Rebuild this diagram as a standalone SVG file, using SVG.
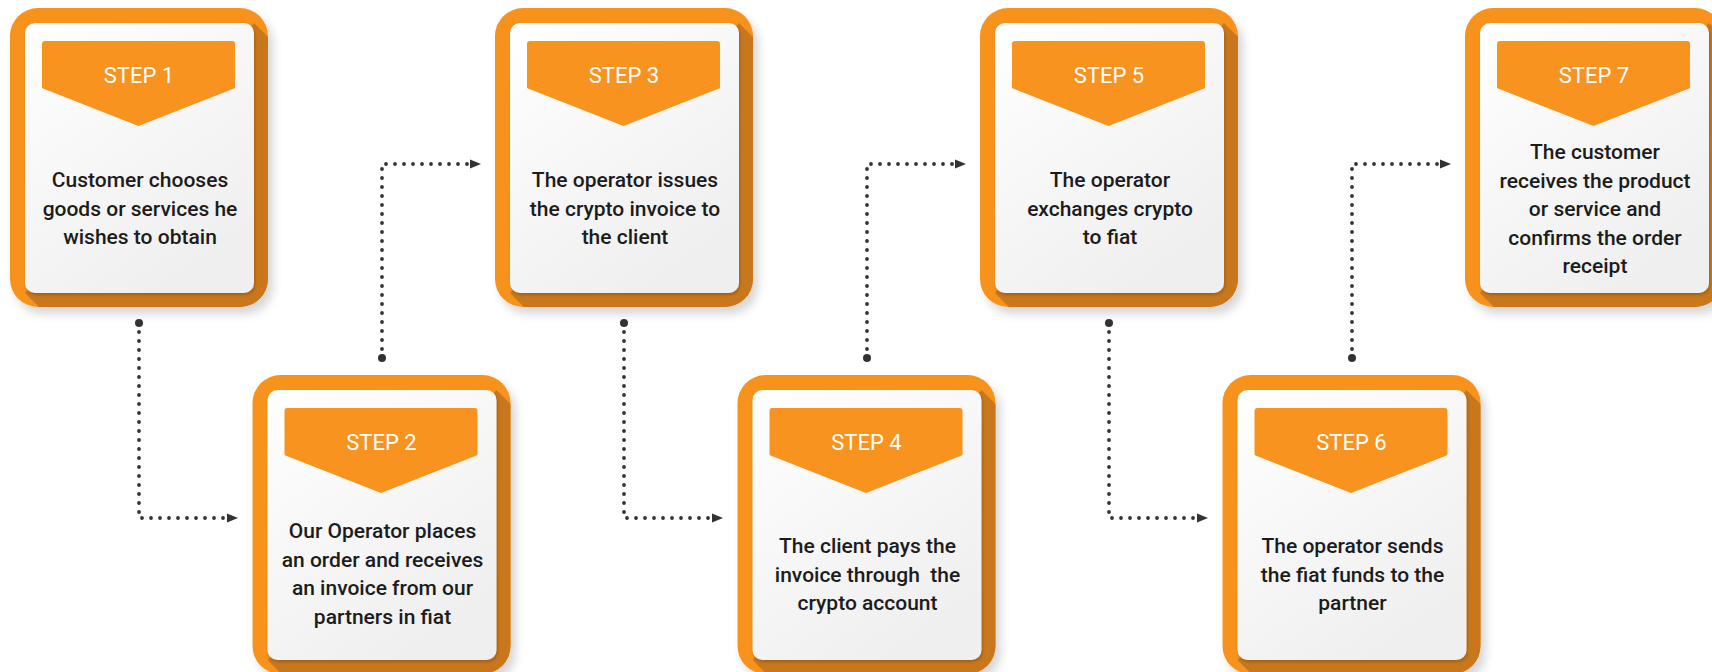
<svg xmlns="http://www.w3.org/2000/svg" xmlns:xlink="http://www.w3.org/1999/xlink" width="1712" height="672" viewBox="0 0 1712 672">
<style>
.outer{fill:#F7931E}
.banner{fill:#F7931E}
.lbl{font-family:Roboto,"Liberation Sans",sans-serif;font-size:22px;font-weight:400;fill:#ffffff;text-anchor:middle}
.txt{font-family:Roboto,"Liberation Sans",sans-serif;font-size:21px;font-weight:500;fill:#1c1c1c;text-anchor:middle}
.conn{fill:none;stroke:#333333;stroke-width:3.8;stroke-linecap:round;stroke-dasharray:0 9}
.dot{fill:#333333}
</style>
<defs>
  <linearGradient id="cardGrad" x1="0" y1="0" x2="0.6" y2="1">
    <stop offset="0" stop-color="#ffffff"/>
    <stop offset="1" stop-color="#efefef"/>
  </linearGradient>
  <clipPath id="outerClip"><rect x="0" y="0" width="258" height="299" rx="28"/></clipPath>
  <filter id="drop" x="-10%" y="-10%" width="130%" height="130%">
    <feDropShadow dx="5" dy="7" stdDeviation="5" flood-color="#000000" flood-opacity="0.16"/>
  </filter>
  <filter id="cardShadow" x="-10%" y="-10%" width="130%" height="130%">
    <feDropShadow dx="1" dy="2" stdDeviation="1.5" flood-color="#000000" flood-opacity="0.2"/>
  </filter>
  <g id="box">
    <rect class="outer" width="258" height="299" rx="28" filter="url(#drop)"/>
    <path clip-path="url(#outerClip)" d="M244 15 L354 125 L354 395 L125 395 L15 285 Z" fill="#C8771C"/>
    <rect x="15" y="15" width="229" height="270" rx="10" fill="url(#cardGrad)" filter="url(#cardShadow)"/>
    <path class="banner" d="M35 33 H222 Q225 33 225 36 V79 Q225 80 224 80.5 L128.5 118 L33 80.5 Q32 80 32 79 V36 Q32 33 35 33 Z"/>
  </g>
  <marker id="arrow" markerUnits="userSpaceOnUse" viewBox="0 0 11 10" markerWidth="11" markerHeight="10" refX="0" refY="5" orient="auto">
    <path d="M0 0.5 L11 5 L0 9.5 Z" fill="#333333"/>
  </marker>
</defs>

<g id="connectors">
  <g id="c1-2"><circle class="dot" cx="139" cy="323" r="4"/><path class="conn" d="M139 323 V518 H227" marker-end="url(#arrow)"/></g>
  <g id="c2-3"><circle class="dot" cx="382" cy="358" r="4"/><path class="conn" d="M382 358 V164 H470" marker-end="url(#arrow)"/></g>
  <g id="c3-4"><circle class="dot" cx="624" cy="323" r="4"/><path class="conn" d="M624 323 V518 H712" marker-end="url(#arrow)"/></g>
  <g id="c4-5"><circle class="dot" cx="867" cy="358" r="4"/><path class="conn" d="M867 358 V164 H955" marker-end="url(#arrow)"/></g>
  <g id="c5-6"><circle class="dot" cx="1109" cy="323" r="4"/><path class="conn" d="M1109 323 V518 H1197" marker-end="url(#arrow)"/></g>
  <g id="c6-7"><circle class="dot" cx="1352" cy="358" r="4"/><path class="conn" d="M1352 358 V164 H1440" marker-end="url(#arrow)"/></g>
</g>

<g id="step1" transform="translate(10,8)">
  <use xlink:href="#box" href="#box"/>
  <text class="lbl" x="129" y="75">STEP 1</text>
  <text class="txt" x="130" y="179">Customer chooses</text>
  <text class="txt" x="130" y="207.5">goods or services he</text>
  <text class="txt" x="130" y="236">wishes to obtain</text>
</g>
<g id="step2" transform="translate(252.5,375)">
  <use xlink:href="#box" href="#box"/>
  <text class="lbl" x="129" y="75">STEP 2</text>
  <text class="txt" x="130" y="163">Our Operator places</text>
  <text class="txt" x="130" y="191.5">an order and receives</text>
  <text class="txt" x="130" y="220">an invoice from our</text>
  <text class="txt" x="130" y="248.5">partners in fiat</text>
</g>
<g id="step3" transform="translate(495,8)">
  <use xlink:href="#box" href="#box"/>
  <text class="lbl" x="129" y="75">STEP 3</text>
  <text class="txt" x="130" y="179">The operator issues</text>
  <text class="txt" x="130" y="207.5">the crypto invoice to</text>
  <text class="txt" x="130" y="236">the client</text>
</g>
<g id="step4" transform="translate(737.5,375)">
  <use xlink:href="#box" href="#box"/>
  <text class="lbl" x="129" y="75">STEP 4</text>
  <text class="txt" x="130" y="178">The client pays the</text>
  <text class="txt" x="130" y="206.5" xml:space="preserve">invoice through  the</text>
  <text class="txt" x="130" y="235">crypto account</text>
</g>
<g id="step5" transform="translate(980,8)">
  <use xlink:href="#box" href="#box"/>
  <text class="lbl" x="129" y="75">STEP 5</text>
  <text class="txt" x="130" y="179">The operator</text>
  <text class="txt" x="130" y="207.5">exchanges crypto</text>
  <text class="txt" x="130" y="236">to fiat</text>
</g>
<g id="step6" transform="translate(1222.5,375)">
  <use xlink:href="#box" href="#box"/>
  <text class="lbl" x="129" y="75">STEP 6</text>
  <text class="txt" x="130" y="178">The operator sends</text>
  <text class="txt" x="130" y="206.5">the fiat funds to the</text>
  <text class="txt" x="130" y="235">partner</text>
</g>
<g id="step7" transform="translate(1465,8)">
  <use xlink:href="#box" href="#box"/>
  <text class="lbl" x="129" y="75">STEP 7</text>
  <text class="txt" x="130" y="151">The customer</text>
  <text class="txt" x="130" y="179.5">receives the product</text>
  <text class="txt" x="130" y="208">or service and</text>
  <text class="txt" x="130" y="236.5">confirms the order</text>
  <text class="txt" x="130" y="265">receipt</text>
</g>
</svg>
